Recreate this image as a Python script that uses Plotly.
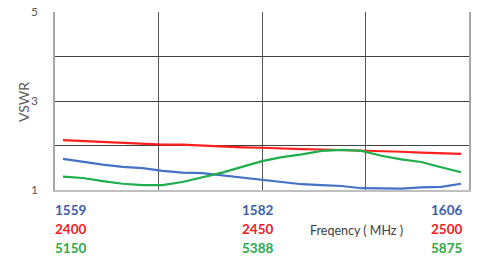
import plotly.graph_objects as go

# sample index along the band (21 evenly spaced measurement points)
sample_idx = list(range(21))

vswr_gps = [1.70, 1.63, 1.57, 1.52, 1.49, 1.43, 1.39, 1.38, 1.33, 1.27, 1.23,
            1.17, 1.13, 1.11, 1.09, 1.04, 1.03, 1.03, 1.06, 1.07, 1.14]
vswr_24g = [2.12, 2.10, 2.08, 2.06, 2.04, 2.02, 2.02, 2.00, 1.97, 1.96, 1.95,
            1.93, 1.92, 1.91, 1.90, 1.89, 1.87, 1.86, 1.84, 1.83, 1.81]
vswr_5g = [1.30, 1.27, 1.20, 1.14, 1.11, 1.11, 1.18, 1.28, 1.39, 1.52, 1.65,
           1.74, 1.80, 1.88, 1.90, 1.88, 1.77, 1.69, 1.63, 1.51, 1.40]

band_labels_gps = ["1559", "1582", "1606"]
band_labels_24g = ["2400", "2450", "2500"]
band_labels_5g = ["5150", "5388", "5875"]

y_tickvals = [1, 2, 3, 4, 5]
y_ticktext = ["1", "", "3", "", "5"]

c_blue = "#4472C4"
c_red = "#FF1F1F"
c_green = "#1FAE4B"
lbl_blue = "#3D5DAA"
lbl_red = "#F01C24"
lbl_green = "#2CAA4A"

fig = go.Figure()
for vals, col in [(vswr_gps, c_blue), (vswr_24g, c_red), (vswr_5g, c_green)]:
    fig.add_trace(go.Scatter(x=sample_idx, y=vals, mode="lines",
                             line=dict(color=col, width=2.2), showlegend=False,
                             hoverinfo="skip"))

fig.update_layout(
    width=477, height=256,
    margin=dict(l=55, r=8, t=12, b=66, autoexpand=False),
    paper_bgcolor="white", plot_bgcolor="white",
    font=dict(family="Lato, Open Sans, sans-serif", color="#595959"),
)
fig.update_xaxes(range=[-0.4, 20.4], tickvals=[4.8, 10, 15.2], showticklabels=False,
                 showgrid=True, gridcolor="#555555", gridwidth=1, zeroline=False,
                 showline=True, linecolor="#BFBFBF", linewidth=2, ticks="",
                 automargin=False)
fig.update_yaxes(range=[1, 5], tickvals=y_tickvals, ticktext=y_ticktext,
                 showgrid=True, gridcolor="#404040", gridwidth=1, zeroline=False,
                 showline=True, linecolor="#A6A6A6", linewidth=1.5, mirror=True,
                 ticks="", ticklabelstandoff=13, automargin=False,
                 tickfont=dict(size=12, color="#595959"))

ann = []
rows = [(band_labels_gps, lbl_blue, 210), (band_labels_24g, lbl_red, 229), (band_labels_5g, lbl_green, 247.5)]
for labels, col, ypx in rows:
    yp = 1 - (ypx - 12) / 178.0  # paper coordinate
    for i, (txt, xa, xp) in enumerate(zip(labels, ["left", "center", "right"], [-0.004, 0.49, 0.987])):
        ann.append(dict(text="<b>%s</b>" % txt, x=xp, y=yp, xref="paper", yref="paper",
                        xanchor=xa, yanchor="middle", showarrow=False,
                        font=dict(size=13.5, color=col, family="Lato, sans-serif")))
ann.append(dict(text="Freqency ( MHz )", x=(308 - 55) / 414.5, y=1 - (230 - 12) / 178.0,
                xref="paper", yref="paper", xanchor="left", yanchor="middle",
                showarrow=False, font=dict(size=12.5, color="#404040")))
ann.append(dict(text="VSWR", x=-(55 - 23) / 414.5, y=1 - (102 - 12) / 178.0,
                xref="paper", yref="paper", xanchor="center", yanchor="middle",
                textangle=-90, showarrow=False, font=dict(size=14, color="#595959")))
fig.update_layout(annotations=ann)

fig.write_html("out.html", config={"displayModeBar": False},
               post_script="document.body.style.margin='0';document.body.style.overflow='hidden';")
